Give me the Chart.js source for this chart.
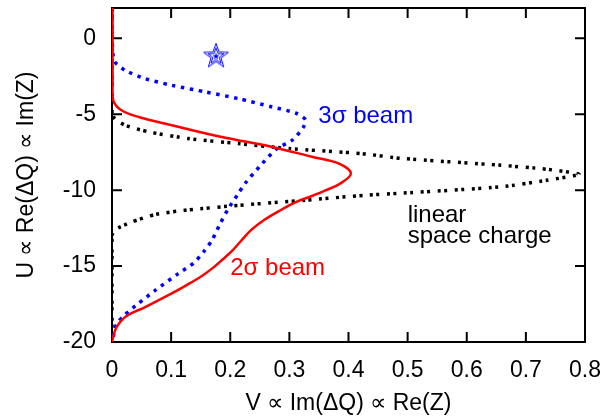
<!DOCTYPE html>
<html>
<head>
<meta charset="utf-8">
<script src="https://cdn.jsdelivr.net/npm/chart.js@4.4.1/dist/chart.umd.min.js"></script>
<style>
  html, body { margin: 0; background: #fff; }
  #caja { width: 616px; height: 417px; }
</style>
</head>
<body>
<div id="caja"><canvas id="grafico"></canvas></div>
<script>
// curva 2 sigma (V contra U)
const u2sigma = [2, -3, -4.08, -4.74, -5.18, -5.72, -6.5, -7.15, -7.8, -8.25, -8.9, -9.56, -10.0, -10.4, -10.8, -11.43, -12.0, -12.6, -13.3, -14.0, -14.6, -15.2, -15.7, -16.3, -16.8, -17.7, -18.3, -19.0, -19.65, -20];
const v2sigma = [0.001, 0.001, 0.002, 0.016, 0.045, 0.101, 0.186, 0.271, 0.338, 0.384, 0.404, 0.386, 0.362, 0.337, 0.31, 0.28, 0.256, 0.236, 0.219, 0.203, 0.186, 0.168, 0.15, 0.124, 0.101, 0.056, 0.024, 0.008, 0.002, 0];

// curva 3 sigma
const u3sigma = [2, -0.8, -1.56, -2.1, -2.65, -3.09, -3.53, -3.97, -4.52, -4.91, -5.35, -5.83, -6.7, -7.26, -8.25, -9.56, -10.2, -11.2, -12.2, -13.3, -14.06, -14.8, -15.5, -16.6, -17.45, -18.2, -18.8, -19.65, -20];
const v3sigma = [0, 0.001, 0.005, 0.022, 0.056, 0.101, 0.158, 0.214, 0.271, 0.31, 0.327, 0.324, 0.305, 0.279, 0.254, 0.225, 0.214, 0.197, 0.183, 0.169, 0.155, 0.138, 0.112, 0.073, 0.045, 0.022, 0.008, 0.002, 0];

// carga espacial lineal
const uLineal = [2, -4.93, -5.3, -5.72, -6.16, -6.6, -6.93, -7.26, -7.59, -7.9, -8.36, -8.62, -8.95, -9.35, -9.78, -10.2, -10.33, -10.66, -11.0, -11.3, -11.6, -12.1, -12.6, -13, -20];
const vLineal = [0, 0, 0.005, 0.022, 0.062, 0.129, 0.214, 0.299, 0.423, 0.488, 0.658, 0.735, 0.79, 0.735, 0.658, 0.488, 0.429, 0.327, 0.214, 0.129, 0.073, 0.033, 0.005, 0, 0];

// estrella
const vEstrella = [0.176];
const uEstrella = [-1.12];

const ticksX = [0, 0.1, 0.2, 0.3, 0.4, 0.5, 0.6, 0.7, 0.8];
const ticksY = [-20, -15, -10, -5, 0];

const puntos = (vs, us) => vs.map((v, i) => ({ x: v, y: us[i] }));

const fuente = "'Liberation Sans', Arial, sans-serif";

// etiquetas dentro del grafico (coordenadas de datos)
const etiquetas = [
  { texto: "3σ beam", x: 0.349, y: -5.6, color: "#0000ff" },
  { texto: "2σ beam", x: 0.2, y: -15.6, color: "#ff0000" },
  { texto: "linear", x: 0.5, y: -12.1, color: "#000000" },
  { texto: "space charge", x: 0.5, y: -13.5, color: "#000000" },
];

// simbolo de estrella dibujado a mano
function trazarEstrella(ctx, cx, cy, R, r) {
  ctx.beginPath();
  for (let i = 0; i < 10; i++) {
    const rad = i % 2 === 0 ? R : r;
    const a = -Math.PI / 2 + i * Math.PI / 5;
    const px = cx + rad * Math.cos(a), py = cy + rad * Math.sin(a);
    if (i === 0) ctx.moveTo(px, py); else ctx.lineTo(px, py);
  }
  ctx.closePath();
}
const estrella = document.createElement("canvas");
estrella.width = 30; estrella.height = 30;
(function () {
  const c = estrella.getContext("2d");
  c.strokeStyle = "#0000ff";
  c.fillStyle = "#0000ff";
  c.lineWidth = 1;
  trazarEstrella(c, 15, 16, 13, 5.3); c.stroke();
  trazarEstrella(c, 15, 16, 8.5, 3.4); c.stroke();
  trazarEstrella(c, 15, 16, 3.6, 1.5); c.fill();
})();

const marco = {
  id: "marco",
  beforeDatasetsDraw(chart) {
    const { ctx, chartArea: a, scales: { x, y } } = chart;
    ctx.save();
    ctx.strokeStyle = "#000";
    ctx.lineWidth = 2;
    ctx.strokeRect(a.left, a.top, a.right - a.left, a.bottom - a.top);
    ctx.beginPath();
    ticksX.forEach((t) => {
      const px = x.getPixelForValue(t);
      ctx.moveTo(px, a.bottom); ctx.lineTo(px, a.bottom - 10);
      ctx.moveTo(px, a.top); ctx.lineTo(px, a.top + 10);
    });
    ticksY.forEach((t) => {
      const py = y.getPixelForValue(t);
      ctx.moveTo(a.left, py); ctx.lineTo(a.left + 10, py);
      ctx.moveTo(a.right, py); ctx.lineTo(a.right - 10, py);
    });
    ctx.stroke();
    ctx.restore();
  },
  afterDatasetsDraw(chart) {
    const { ctx, scales: { x, y } } = chart;
    ctx.save();
    ctx.font = "24px " + fuente;
    ctx.textBaseline = "alphabetic";
    ctx.textAlign = "left";
    etiquetas.forEach((e) => {
      ctx.fillStyle = e.color;
      ctx.fillText(e.texto, x.getPixelForValue(e.x), y.getPixelForValue(e.y));
    });
    ctx.restore();
  },
};

const ctx = document.getElementById("grafico").getContext("2d");
new Chart(ctx, {
  type: "scatter",
  data: {
    datasets: [
      {
        label: "2σ beam",
        data: puntos(v2sigma, u2sigma),
        showLine: true,
        borderColor: "#ff0000",
        borderWidth: 2.5,
        pointRadius: 0,
        tension: 0.35,
      },
      {
        label: "3σ beam",
        data: puntos(v3sigma, u3sigma),
        showLine: true,
        borderColor: "#0000ff",
        borderWidth: 3.5,
        borderDash: [3.5, 5.5],
        borderCapStyle: "butt",
        pointRadius: 0,
        tension: 0.25,
      },
      {
        label: "linear space charge",
        data: puntos(vLineal, uLineal),
        showLine: true,
        borderColor: "#000000",
        borderWidth: 3.5,
        borderDash: [3, 3.5, 3, 7.5],
        borderCapStyle: "butt",
        pointRadius: 0,
        tension: 0.2,
      },
      {
        label: "estrella",
        data: puntos(vEstrella, uEstrella),
        pointStyle: estrella,
        pointRadius: 15,
      },
    ],
  },
  options: {
    responsive: true,
    maintainAspectRatio: false,
    animation: false,
    layout: { autoPadding: false, padding: { top: 8, right: 31, left: 0, bottom: 0 } },
    plugins: { legend: { display: false }, tooltip: { enabled: false } },
    scales: {
      x: {
        type: "linear",
        min: 0,
        max: 0.8,
        grid: { display: false },
        border: { display: false },
        afterBuildTicks: (s) => { s.ticks = ticksX.map((v) => ({ value: v })); },
        afterFit: (s) => { s.height = 75; s.paddingLeft = 0; s.paddingRight = 0; },
        ticks: {
          color: "#000",
          padding: 7,
          font: { family: fuente, size: 23 },
          callback: (v) => String(+v.toFixed(1)),
        },
        title: {
          display: true,
          text: "V ∝ Im(ΔQ) ∝ Re(Z)",
          color: "#000",
          font: { family: fuente, size: 23 },
          padding: { top: 0, bottom: 0 },
        },
      },
      y: {
        type: "linear",
        min: -20,
        max: 2,
        grid: { display: false },
        border: { display: false },
        afterBuildTicks: (s) => { s.ticks = ticksY.map((v) => ({ value: v })); },
        afterFit: (s) => { s.width = 112; s.paddingTop = 0; s.paddingBottom = 0; },
        ticks: {
          color: "#000",
          padding: 8,
          font: { family: fuente, size: 23 },
        },
        title: {
          display: true,
          text: "U ∝ Re(ΔQ) ∝ Im(Z)",
          color: "#000",
          font: { family: fuente, size: 23 },
          padding: { top: 13, bottom: 0 },
        },
      },
    },
  },
  plugins: [marco],
});
</script>
</body>
</html>
